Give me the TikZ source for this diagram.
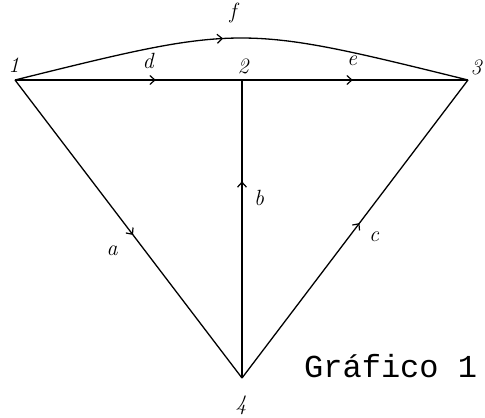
\documentclass[tikz,border=0pt]{standalone}
\usepackage{fontspec}
\newfontfamily\monofont{Liberation Mono}
\usetikzlibrary{arrows.meta,decorations.markings}
\begin{document}
\begin{tikzpicture}[x=1pt,y=-1pt,
  edge/.style={line width=1.3pt},
  midarrow/.style={postaction={decorate},decoration={markings,mark=at position #1 with {\arrow{Straight Barb[length=5pt,width=9pt,line width=1.2pt]}}}},
  vlabel/.style={inner sep=0pt,font=\fontsize{22}{22}\selectfont\itshape},
  elabel/.style={inner sep=0pt,font=\fontsize{22}{22}\selectfont\itshape}]
\useasboundingbox (0,0) rectangle (485,418);
\coordinate (n1) at (15,80);
\coordinate (n2) at (242,80);
\coordinate (n3) at (468,80);
\coordinate (n4) at (242,378);
\coordinate (cf) at (241,24);
\node[vlabel] (l1) at (14,65) {1};
\node[vlabel] (l2) at (243,66) {2};
\node[vlabel] (l3) at (476,67) {3};
\node[vlabel] (l4) at (241,405) {4};
\draw[edge,midarrow=0.46] (n1) .. controls (cf) .. (n3);
\draw[edge,midarrow=0.62] (n1) -- (n2);
\draw[edge,midarrow=0.49] (n2) -- (n3);
\draw[edge,midarrow=0.52] (n1) -- (n4);
\draw[edge,midarrow=0.66] (n4) -- (n2);
\draw[edge,midarrow=0.52] (n4) -- (n3);
\node[elabel] (lf) at (233,13) {f};
\node[elabel] (ld) at (148,61) {d};
\node[elabel] (le) at (352,61) {e};
\node[elabel] (la) at (112,251) {a};
\node[elabel] (lb) at (259,198) {b};
\node[elabel] (lc) at (374,237) {c};
\node[inner sep=0pt,anchor=base west,font=\monofont\fontsize{32}{32}\selectfont] (g) at (304,377) {Gráfico 1};
\end{tikzpicture}
\end{document}
